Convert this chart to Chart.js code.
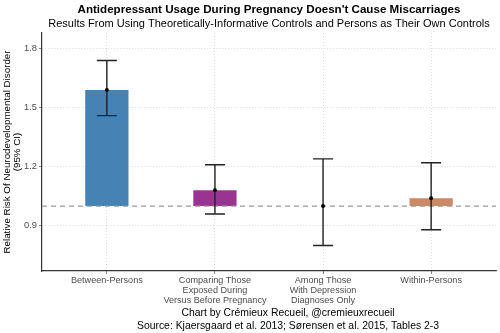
<!DOCTYPE html>
<html>
<head>
<meta charset="utf-8">
<script src="https://cdn.jsdelivr.net/npm/chart.js@4/dist/chart.umd.min.js"></script>
<style>
  html, body { margin: 0; padding: 0; background: #fff; }
  #wrap { width: 500px; height: 333px; }
</style>
</head>
<body>
<div id="wrap"><canvas id="chart"></canvas></div>
<script>
// comparison groups and their relative risk estimates with 95% CI
const groups = [
    ['Between-Persons'],
    ['Comparing Those', 'Exposed During', 'Versus Before Pregnancy'],
    ['Among Those', 'With Depression', 'Diagnoses Only'],
    ['Within-Persons']
];
const relativeRisk = [1.59, 1.08, 1.00, 1.04];
const ciLower = [1.46, 0.96, 0.80, 0.88];
const ciUpper = [1.74, 1.21, 1.24, 1.22];
const barColors = ['#4682B4', '#9A3493', '#808080', '#CD8866'];
const yTicks = [0.9, 1.2, 1.5, 1.8];
const baseline = 1.0;

const titleText = "Antidepressant Usage During Pregnancy Doesn't Cause Miscarriages";
const subtitleText = 'Results From Using Theoretically-Informative Controls and Persons as Their Own Controls';
const captionLines = [
    'Chart by Crémieux Recueil, @cremieuxrecueil',
    'Source: Kjaersgaard et al. 2013; Sørensen et al. 2015, Tables 2-3'
];

const FONT = '"Liberation Sans", Arial, Helvetica, sans-serif';

// dashed reference line at RR = 1 and the error bars, drawn right after the bars
const overlay = {
    id: 'overlay',
    afterDatasetDraw(chart, args) {
        if (args.index !== 1) return;
        const ctx = chart.ctx;
        const x = chart.scales.x, y = chart.scales.y;
        const area = chart.chartArea;
        ctx.save();
        ctx.strokeStyle = '#9a9a9a';
        ctx.lineWidth = 1.2;
        ctx.setLineDash([5, 4]);
        const yb = y.getPixelForValue(baseline);
        ctx.beginPath();
        ctx.moveTo(area.left, yb);
        ctx.lineTo(area.right, yb);
        ctx.stroke();
        ctx.setLineDash([]);
        ctx.strokeStyle = '#222';
        ctx.lineWidth = 1.4;
        const cap = 10;
        relativeRisk.forEach((v, i) => {
            const px = x.getPixelForValue(i);
            const yl = y.getPixelForValue(ciLower[i]);
            const yu = y.getPixelForValue(ciUpper[i]);
            ctx.beginPath();
            ctx.moveTo(px, yl); ctx.lineTo(px, yu);
            ctx.moveTo(px - cap, yl); ctx.lineTo(px + cap, yl);
            ctx.moveTo(px - cap, yu); ctx.lineTo(px + cap, yu);
            ctx.stroke();
        });
        ctx.restore();
    }
};

// title, subtitle and caption
const texts = {
    id: 'texts',
    afterDraw(chart) {
        const ctx = chart.ctx;
        const area = chart.chartArea;
        const cx = (area.left + area.right) / 2;
        ctx.save();
        ctx.fillStyle = '#000';
        ctx.textAlign = 'center';
        ctx.textBaseline = 'middle';
        ctx.font = 'bold 11.6px ' + FONT;
        ctx.fillText(titleText, cx, 10);
        ctx.font = '11px ' + FONT;
        ctx.fillText(subtitleText, cx, 23.5);
        ctx.font = '10.4px ' + FONT;
        ctx.fillText(captionLines[0], 288, 313);
        ctx.fillText(captionLines[1], 288, 326);
        ctx.restore();
    }
};

new Chart(document.getElementById('chart'), {
    type: 'bar',
    data: {
        datasets: [
            {
                type: 'line',
                label: 'Estimate',
                data: relativeRisk.map((v, i) => ({ x: i, y: v })),
                showLine: false,
                pointRadius: 2,
                pointBackgroundColor: '#000',
                pointBorderColor: '#000',
                pointBorderWidth: 0,
                order: 0
            },
            {
                label: 'Relative Risk',
                data: relativeRisk.map((v, i) => ({ x: i, y: [baseline, v] })),
                backgroundColor: barColors,
                borderWidth: 0,
                barPercentage: 0.4,
                categoryPercentage: 1,
                order: 1
            }
        ]
    },
    options: {
        responsive: true,
        maintainAspectRatio: false,
        animation: false,
        layout: { padding: { left: 0, right: 3, top: 33, bottom: 0 } },
        plugins: {
            legend: { display: false },
            tooltip: { enabled: false }
        },
        scales: {
            x: {
                type: 'linear',
                offset: false,
                min: -0.6,
                max: 3.6,
                afterBuildTicks(scale) {
                    scale.ticks = groups.map((g, i) => ({ value: i }));
                },
                afterFit(scale) { scale.height = 62; },
                ticks: {
                    callback: (v) => groups[v],
                    color: '#4d4d4d',
                    font: { family: FONT, size: 9.1, lineHeight: 1.1 },
                    padding: 1,
                    maxRotation: 0,
                    autoSkip: false
                },
                grid: {
                    offset: false,
                    color: '#d4d4d4',
                    lineWidth: 0.8,
                    tickColor: '#666',
                    tickLength: 3
                },
                border: { display: true, color: '#333', width: 1.2, dash: [1, 2] }
            },
            y: {
                min: 0.67,
                max: 1.88,
                afterBuildTicks(scale) {
                    scale.ticks = yTicks.map(v => ({ value: v }));
                },
                afterFit(scale) { scale.width = 42; },
                ticks: {
                    callback: (v) => v.toFixed(1),
                    color: '#4d4d4d',
                    font: { family: FONT, size: 9.3 },
                    padding: 2
                },
                grid: {
                    color: '#d4d4d4',
                    lineWidth: 0.8,
                    tickColor: '#666',
                    tickLength: 3
                },
                border: { display: true, color: '#333', width: 1.2, dash: [1, 2] },
                title: {
                    display: true,
                    text: ['Relative Risk Of Neurodevelopmental Disorder', '(95% CI)'],
                    color: '#000',
                    font: { family: FONT, size: 9.8, lineHeight: 1.05 },
                    padding: { top: 2, bottom: 0 }
                }
            }
        }
    },
    plugins: [overlay, texts]
});
</script>
</body>
</html>
